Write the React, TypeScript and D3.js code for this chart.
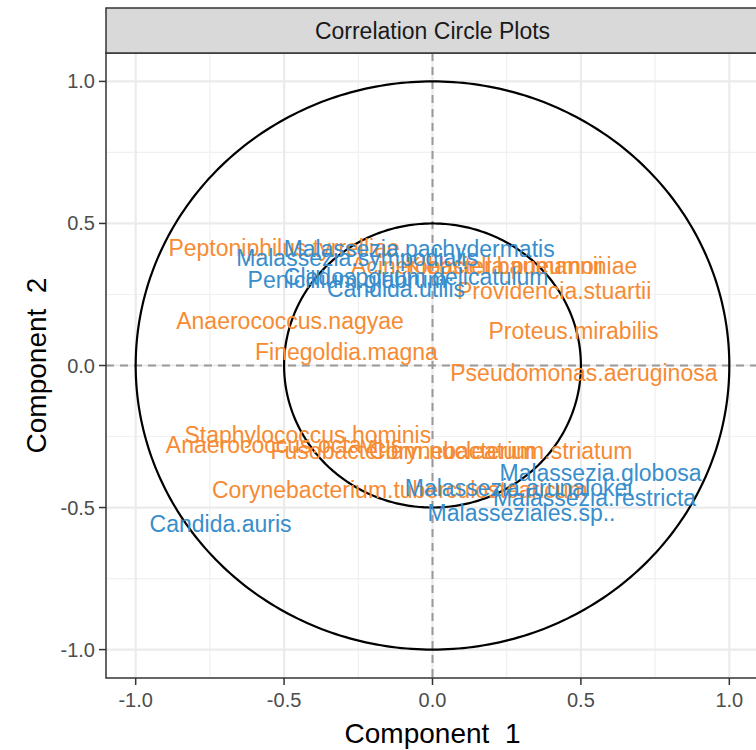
import React from 'react';
import { scaleLinear, range } from 'd3';

const orangeLabels = [
  'Peptoniphilus.tyrrelliae', 'Acinetobacter.baumannii', 'Klebsiella.pneumoniae',
  'Providencia.stuartii', 'Proteus.mirabilis', 'Anaerococcus.nagyae', 'Finegoldia.magna',
  'Pseudomonas.aeruginosa', 'Staphylococcus.hominis', 'Anaerococcus.octavius',
  'Fusobacterium.nucleatum', 'Corynebacterium.striatum', 'Corynebacterium.tuberculostearicum',
];
const orangeX = [-0.5, 0.15, 0.3, 0.41, 0.475, -0.48, -0.29, 0.51, -0.42, -0.5, -0.1, 0.23, -0.11];
const orangeY = [0.415, 0.35, 0.352, 0.264, 0.123, 0.158, 0.046, -0.025, -0.246, -0.278, -0.3, -0.3, -0.437];

const blueLabels = [
  'Malassezia.pachydermatis', 'Malassezia.sympodialis', 'Penicillium.glabrum',
  'Cladosporium.delicatulum', 'Candida.utilis', 'Malassezia.globosa',
  'Malassezia.arunalokei', 'Malassezia.restricta', 'Malasseziales.sp..', 'Candida.auris',
];
const blueX = [-0.045, -0.254, -0.287, -0.055, -0.123, 0.566, 0.29, 0.546, 0.3, -0.714];
const blueY = [0.41, 0.377, 0.3, 0.313, 0.27, -0.377, -0.43, -0.465, -0.518, -0.556];

const ticks = [-1, -0.5, 0, 0.5, 1];
const minorTicks = [-0.75, -0.25, 0.25, 0.75];
const radii = [1, 0.5];

const font = 'Liberation Sans, Arial, Helvetica, sans-serif';

const App = () => {
  const left = 106;
  const right = 759;
  const top = 53;
  const bottom = 678;
  const x = scaleLinear().domain([-1.1, 1.1]).range([left, right]);
  const y = scaleLinear().domain([-1.1, 1.1]).range([bottom, top]);

  const circlePath = (r: number) =>
    range(0, 361).map((a, i) => {
      const t = (a * Math.PI) / 180;
      return `${i ? 'L' : 'M'}${x(r * Math.cos(t))},${y(r * Math.sin(t))}`;
    }).join('') + 'Z';

  return (
    <svg width={756} height={750} style={{ position: 'absolute', left: 0, top: 0 }}>
      <rect width={756} height={750} fill='white' />
      <defs>
        <clipPath id='panel'>
          <rect x={left} y={top} width={right - left} height={bottom - top} />
        </clipPath>
      </defs>
      {/* grid */}
      {minorTicks.map((t) => (
        <g key={'m' + t}>
          <line x1={x(t)} x2={x(t)} y1={top} y2={bottom} stroke='#f0f0f0' strokeWidth={1.2} />
          <line x1={left} x2={right} y1={y(t)} y2={y(t)} stroke='#f0f0f0' strokeWidth={1.2} />
        </g>
      ))}
      {ticks.map((t) => (
        <g key={'M' + t}>
          <line x1={x(t)} x2={x(t)} y1={top} y2={bottom} stroke='#ebebeb' strokeWidth={2.2} />
          <line x1={left} x2={right} y1={y(t)} y2={y(t)} stroke='#ebebeb' strokeWidth={2.2} />
        </g>
      ))}
      <g clipPath='url(#panel)'>
        <line x1={x(0)} x2={x(0)} y1={top} y2={bottom} stroke='#9a9a9a' strokeWidth={2} strokeDasharray='8,6' />
        <line x1={left} x2={right} y1={y(0)} y2={y(0)} stroke='#9a9a9a' strokeWidth={2} strokeDasharray='8,6' />
        {radii.map((r) => (
          <path key={r} d={circlePath(r)} fill='none' stroke='black' strokeWidth={2.2} />
        ))}
        {orangeLabels.map((l, i) => (
          <text key={l} x={x(orangeX[i])} y={y(orangeY[i])} dy='0.35em' textAnchor='middle'
            fontFamily={font} fontSize={23} fill='#F68B33'>{l}</text>
        ))}
        {blueLabels.map((l, i) => (
          <text key={l} x={x(blueX[i])} y={y(blueY[i])} dy='0.35em' textAnchor='middle'
            fontFamily={font} fontSize={23} fill='#388ECC'>{l}</text>
        ))}
      </g>
      {/* panel border */}
      <rect x={left} y={top} width={right - left} height={bottom - top} fill='none' stroke='#333333' strokeWidth={1.5} />
      {/* strip */}
      <rect x={left} y={8} width={right - left} height={top - 8} fill='#d9d9d9' stroke='#333333' strokeWidth={1.5} />
      <text x={(left + right) / 2} y={31} dy='0.35em' textAnchor='middle' fontFamily={font} fontSize={23} fill='#1a1a1a'>
        Correlation Circle Plots
      </text>
      {/* axes */}
      {ticks.map((t) => (
        <g key={'ax' + t}>
          <line x1={x(t)} x2={x(t)} y1={bottom} y2={bottom + 7} stroke='#333333' strokeWidth={1.5} />
          <text x={x(t)} y={bottom + 15} dy='0.71em' textAnchor='middle' fontFamily={font} fontSize={20} fill='#4d4d4d'>
            {t.toFixed(1)}
          </text>
          <line x1={left - 7} x2={left} y1={y(t)} y2={y(t)} stroke='#333333' strokeWidth={1.5} />
          <text x={left - 11} y={y(t)} dy='0.35em' textAnchor='end' fontFamily={font} fontSize={20} fill='#4d4d4d'>
            {t.toFixed(1)}
          </text>
        </g>
      ))}
      <text x={(left + right) / 2} y={733} dy='0.35em' textAnchor='middle' fontFamily={font} fontSize={28} fill='black'>
        Component{'\u00a0\u00a0'}1
      </text>
      <text transform={`translate(36,${y(0)}) rotate(-90)`} dy='0.35em' textAnchor='middle' fontFamily={font} fontSize={28} fill='black'>
        Component{'\u00a0\u00a0'}2
      </text>
    </svg>
  );
};

export default App;
